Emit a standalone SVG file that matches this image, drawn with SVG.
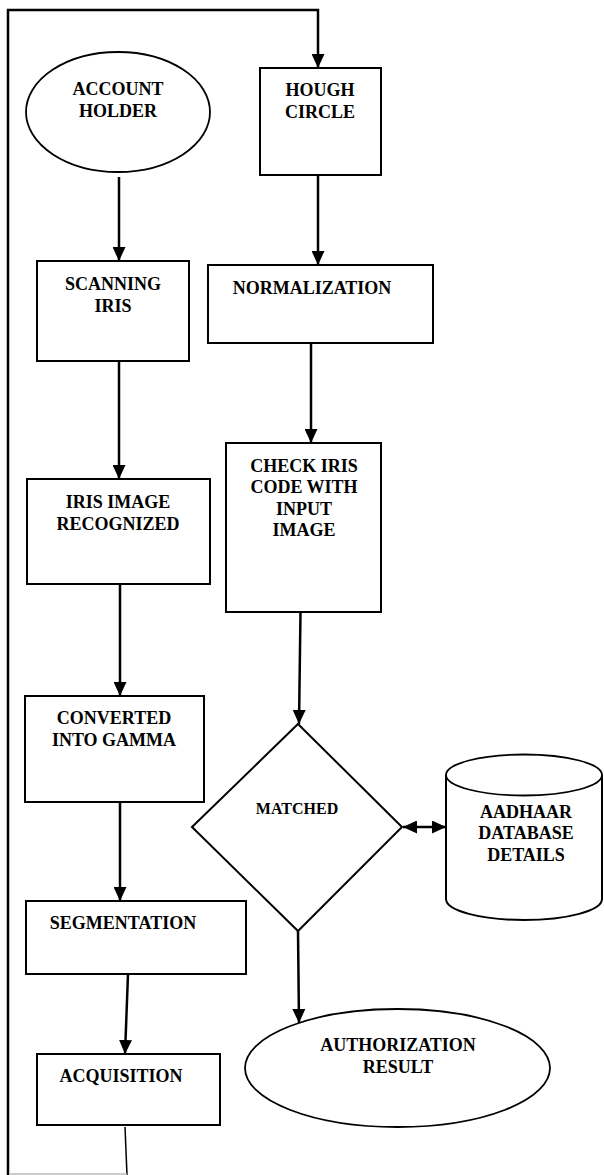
<svg xmlns="http://www.w3.org/2000/svg" width="604" height="1175" viewBox="0 0 604 1175" font-family="'Liberation Serif', 'Times New Roman', serif">
<style>
.shape{fill:#fff;stroke:#000;stroke-width:2}
.ell{fill:#fff;stroke:#000;stroke-width:1.8}
.con{fill:none;stroke:#000;stroke-width:2.5}
.thin{fill:none;stroke:#000;stroke-width:1.5}
text{font-family:'Liberation Serif','Times New Roman',serif;font-weight:bold;font-size:18px;fill:#000;text-anchor:middle}
.sm{font-size:16px}
</style>
<defs>
<marker id="ah" viewBox="0 0 14 13" refX="14" refY="6.5" markerWidth="14" markerHeight="13" markerUnits="userSpaceOnUse" orient="auto">
<path d="M0,0 L14,6.5 L0,13 Z" fill="#000"/>
</marker>
<marker id="ahs" viewBox="0 0 14 13" refX="0" refY="6.5" markerWidth="14" markerHeight="13" markerUnits="userSpaceOnUse" orient="auto">
<path d="M14,0 L0,6.5 L14,13 Z" fill="#000"/>
</marker>
</defs>
<rect width="604" height="1175" fill="#fff"/>
<g id="connectors">
<path class="con" d="M8,1175 L8,10 L318,10 L318,68" marker-end="url(#ah)"/>
<line class="thin" x1="125" y1="1127" x2="127" y2="1175"/>
<line x1="9" y1="1174" x2="127" y2="1174" stroke="#bbb" stroke-width="1.5"/>
<line class="con" x1="119" y1="177" x2="119" y2="261" marker-end="url(#ah)"/>
<line class="con" x1="119" y1="361" x2="119" y2="479" marker-end="url(#ah)"/>
<line class="con" x1="120" y1="584" x2="120" y2="696" marker-end="url(#ah)"/>
<line class="con" x1="120" y1="802" x2="120" y2="901" marker-end="url(#ah)"/>
<line class="con" x1="128" y1="974" x2="125" y2="1054" marker-end="url(#ah)"/>
<line class="con" x1="318" y1="175" x2="318" y2="265" marker-end="url(#ah)"/>
<line class="con" x1="311" y1="343" x2="311" y2="443" marker-end="url(#ah)"/>
<line class="con" x1="300.5" y1="612" x2="299" y2="724" marker-end="url(#ah)"/>
<line class="con" x1="298" y1="931" x2="299" y2="1023" marker-end="url(#ah)"/>
<line class="con" x1="403" y1="827" x2="446" y2="827" marker-start="url(#ahs)" marker-end="url(#ah)"/>
</g>
<g id="account-holder">
<ellipse class="ell" cx="118" cy="112" rx="92" ry="60"/>
<text x="118" y="95">ACCOUNT</text>
<text x="118" y="117">HOLDER</text>
</g>
<g id="hough-circle">
<rect class="shape" x="260" y="68" width="121" height="107"/>
<text x="320" y="96">HOUGH</text>
<text x="320" y="118">CIRCLE</text>
</g>
<g id="scanning-iris">
<rect class="shape" x="37" y="261" width="152" height="100"/>
<text x="113" y="290">SCANNING</text>
<text x="113" y="312">IRIS</text>
</g>
<g id="normalization">
<rect class="shape" x="208" y="265" width="225" height="78"/>
<text x="312" y="294">NORMALIZATION</text>
</g>
<g id="iris-image-recognized">
<rect class="shape" x="27" y="479" width="183" height="105"/>
<text x="118" y="508">IRIS IMAGE</text>
<text x="118" y="530">RECOGNIZED</text>
</g>
<g id="check-iris-code">
<rect class="shape" x="226" y="443" width="155" height="169"/>
<text x="304" y="472">CHECK IRIS</text>
<text x="304" y="493">CODE WITH</text>
<text x="304" y="515">INPUT</text>
<text x="304" y="536">IMAGE</text>
</g>
<g id="converted-into-gamma">
<rect class="shape" x="25" y="696" width="179" height="106"/>
<text x="114" y="724">CONVERTED</text>
<text x="114" y="746">INTO GAMMA</text>
</g>
<g id="matched">
<polygon class="shape" points="298,724 402,827 298,931 192,827"/>
<text class="sm" x="297" y="814">MATCHED</text>
</g>
<g id="aadhaar-database">
<path class="shape" d="M446,775 L446,899 A78,21 0 0 0 602,899 L602,775"/>
<ellipse class="ell" cx="524" cy="775" rx="78" ry="20.5"/>
<text x="526" y="818">AADHAAR</text>
<text x="526" y="839">DATABASE</text>
<text x="526" y="861">DETAILS</text>
</g>
<g id="segmentation">
<rect class="shape" x="26" y="901" width="220" height="73"/>
<text x="123" y="929">SEGMENTATION</text>
</g>
<g id="acquisition">
<rect class="shape" x="37" y="1054" width="183" height="71"/>
<text x="121" y="1082">ACQUISITION</text>
</g>
<g id="authorization-result">
<ellipse class="ell" cx="397.5" cy="1068" rx="152.5" ry="59"/>
<text x="398" y="1051">AUTHORIZATION</text>
<text x="398" y="1073">RESULT</text>
</g>
</svg>
